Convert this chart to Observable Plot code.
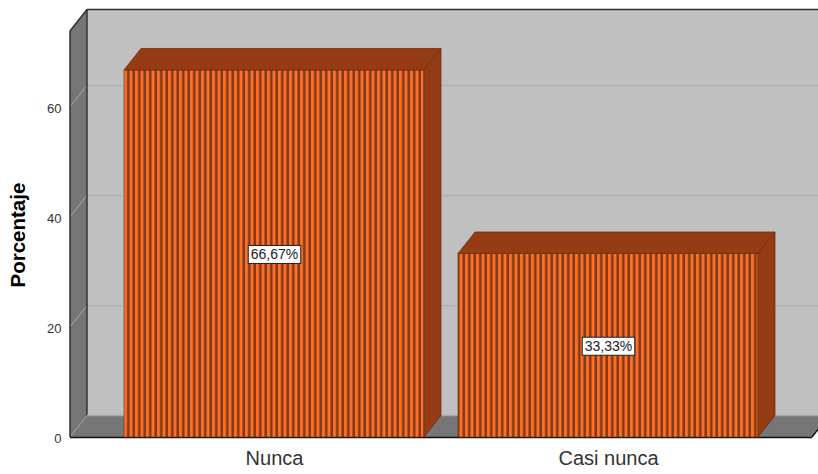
<!DOCTYPE html>
<html><head><meta charset="utf-8">
<style>html,body{margin:0;padding:0;background:#fff}svg{display:block}</style>
<script src="https://cdn.jsdelivr.net/npm/d3@7"></script>
<script src="https://cdn.jsdelivr.net/npm/@observablehq/plot@0.6"></script>
</head><body>
<div id="chart"></div>
<script>
const categories = ["Nunca", "Casi nunca"];
const percents = [66.67, 33.33];
const valueLabels = ["66,67%", "33,33%"];
const yTicks = [0, 20, 40, 60];
const gridTicks = [20, 40, 60];
const yTop = 73.75;
const rows = categories.map((c, i) => ({c, v: percents[i], label: valueLabels[i]}));

const depthX = 17, depthY = -21.5;
const ns = "http://www.w3.org/2000/svg";
function poly(points, attrs) {
  const e = document.createElementNS(ns, "polygon");
  e.setAttribute("points", points.map(p => p.join(",")).join(" "));
  for (const k in attrs) e.setAttribute(k, attrs[k]);
  return e;
}
function seg(a, b, stroke, w) {
  const e = document.createElementNS(ns, "line");
  e.setAttribute("x1", a[0]); e.setAttribute("y1", a[1]);
  e.setAttribute("x2", b[0]); e.setAttribute("y2", b[1]);
  e.setAttribute("stroke", stroke); e.setAttribute("stroke-width", w);
  return e;
}
const shift = ([x, y]) => [x + depthX, y + depthY];

function shell(index, scales, values, d) {
  const g = document.createElementNS(ns, "g");
  const L = d.marginLeft, R = d.width - d.marginRight;
  const T = d.marginTop, B = d.height - d.marginBottom;
  const wall = "#767676", edge = "#2e2e2e";
  g.append(poly([[L, T], shift([L, T]), shift([L, B]), [L, B]], {fill: wall}));
  g.append(poly([[L, B], [R, B], shift([R, B]), shift([L, B])], {fill: wall}));
  for (const t of gridTicks) {
    const y = scales.y(t);
    g.append(seg([L, y], shift([L, y]), "#a8a8a8", 1));
  }
  g.append(seg([L, B], shift([L, B]), "#a0a0a0", 1));
  g.append(seg([L, T], [L, B], edge, 1.5));
  g.append(seg([L, T], shift([L, T]), edge, 1.5));
  g.append(seg(shift([L, T]), shift([L, B]), edge, 1.5));
  g.append(seg(shift([L, T]), shift([R, T]), edge, 1.5));
  g.append(seg(shift([L, B]), shift([R, B]), "#a6a6a6", 1.5));
  g.append(seg([L, B + 0.5], [R, B + 0.5], "#111", 1.5));
  g.append(seg([R, B], shift([R, B]), "#111", 1.5));
  return g;
}
function faces(index, scales, values, d) {
  const g = document.createElementNS(ns, "g");
  const B = d.height - d.marginBottom;
  const face = "#953c14", edge = "#6e2c0e";
  const bw = typeof scales.x.bandwidth === "function" ? scales.x.bandwidth() : scales.x.bandwidth;
  for (const r of rows) {
    const x0 = scales.x(r.c), x1 = x0 + bw, y = scales.y(r.v);
    g.append(poly([[x0, y], shift([x0, y]), shift([x1, y]), [x1, y]], {fill: face, stroke: edge, "stroke-width": 0.8}));
    g.append(poly([[x1, y], shift([x1, y]), shift([x1, B]), [x1, B]], {fill: face, stroke: edge, "stroke-width": 0.8}));
  }
  return g;
}

const chart = Plot.plot({
  width: 818, height: 474,
  marginLeft: 70, marginRight: 6, marginTop: 31, marginBottom: 37,
  style: {background: "#fff", fontFamily: "'Liberation Sans', Arial, sans-serif", overflow: "hidden"},
  x: {type: "band", domain: categories, paddingInner: 0.1018, paddingOuter: 0.1617, round: false, label: null},
  y: {type: "linear", domain: [0, yTop], label: null},
  marks: [
    Plot.frame({fill: "#c0c0c0", stroke: null, dx: depthX, dy: depthY}),
    Plot.ruleY(gridTicks, {stroke: "#a9a9a9", strokeWidth: 1, dx: depthX, dy: depthY}),
    shell,
    Plot.barY(rows, {x: "c", y: "v", fill: "url(#stripes)", stroke: "#6e2c0e", strokeWidth: 0.6}),
    faces,
    Plot.axisY(yTicks, {tickSize: 0, tickPadding: 9, fontSize: 13, fill: "#333", label: null, dy: 1.5}),
    Plot.axisX(categories, {tickSize: 0, tickPadding: 13, fontSize: 20, fill: "#333", label: null}),
    Plot.text(["Porcentaje"], {frameAnchor: "left", text: d => d, rotate: -90, dx: -52, dy: 53, fontSize: 20.5, fontWeight: "bold", fill: "#000"}),
    Plot.text(rows, {x: "c", y: d => d.v / 2, text: "label", fontSize: 14, fill: "#222", dy: 1}),
  ]
});
document.getElementById("chart").append(chart);
const defs = d3.select(chart).insert("defs", ":first-child");
const pat = defs.append("pattern").attr("id", "stripes").attr("patternUnits", "userSpaceOnUse")
  .attr("x", 124).attr("width", 5.5).attr("height", 6);
pat.append("rect").attr("width", 5.5).attr("height", 6).attr("fill", "#803a18");
pat.append("rect").attr("x", 0).attr("width", 3).attr("height", 6).attr("fill", "#fb6f28");
d3.select(chart).selectAll("text").filter(function() { return valueLabels.includes(this.textContent); }).each(function() {
  const b = this.getBBox();
  d3.select(this.parentNode).insert("rect", () => this)
    .attr("x", b.x - 2.5).attr("y", b.y - 1).attr("width", b.width + 5).attr("height", b.height + 2)
    .attr("transform", this.getAttribute("transform"))
    .attr("fill", "#fff").attr("stroke", "#222").attr("stroke-width", 1);
});
</script>
</body></html>
